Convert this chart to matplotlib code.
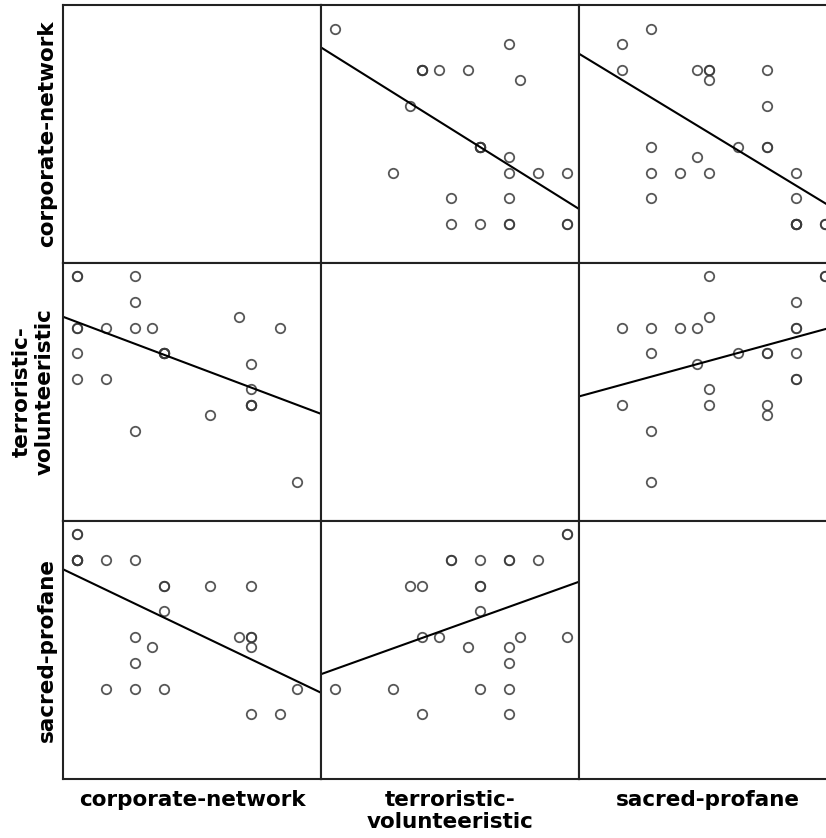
import numpy as np
import matplotlib
matplotlib.use("Agg")
import matplotlib.pyplot as plt

# scores per respondent
corporate_network = [0, 0, 0, 0, 0, 0, 1, 1, 2, 2, 2, 2, 2.6, 3, 3, 3, 3,
                     4.6, 5.6, 6, 6, 6, 6, 6, 7, 7.6]
terroristic_volunteeristic = [8, 8, 6, 6, 5, 4, 4, 6, 8, 7, 2, 6, 6, 5, 5, 5, 5,
                              2.6, 6.4, 4.6, 3.6, 3, 3, 3, 6, 0]
sacred_profane = [8, 8, 7, 7, 7, 7, 7, 2, 4, 7, 2, 3, 3.6, 6, 6, 5, 2,
                  6, 4, 3.6, 4, 6, 4, 1, 1, 2]

variables = [corporate_network, terroristic_volunteeristic, sacred_profane]
row_labels = ["corporate-network", "terroristic-\nvolunteeristic", "sacred-profane"]
col_labels = ["corporate-network", "terroristic-\nvolunteeristic", "sacred-profane"]

W, H = 826, 838
fig = plt.figure(figsize=(W / 100, H / 100), dpi=100)

left0, top0, size = 63, 5, 258
xlim = (-0.466, 8.43)
ylim = (-1.52, 8.516)

for i in range(3):
    for j in range(3):
        ax = fig.add_axes([(left0 + j * size) / W, 1 - (top0 + (i + 1) * size) / H,
                           size / W, size / H])
        ax.set_xlim(xlim)
        ax.set_ylim(ylim)
        ax.set_xticks([])
        ax.set_yticks([])
        for s in ax.spines.values():
            s.set_linewidth(1.5)
            s.set_color("#222222")
        if i == j:
            continue
        x = np.array(variables[j], dtype=float)
        y = np.array(variables[i], dtype=float)
        ax.plot(x, y, "o", ms=6.8, mfc="none", mec="#3a3a3a", mew=1.3,
                alpha=0.85, clip_on=False)
        b, a = np.polyfit(x, y, 1)
        xx = np.array(xlim)
        ax.plot(xx, a + b * xx, color="black", lw=1.5)

for i, lab in enumerate(row_labels):
    yc = 1 - (top0 + (i + 0.5) * size) / H
    xc = 47 / W if "\n" not in lab else 33 / W
    fig.text(xc, yc, lab, rotation=90, ha="center", va="center",
             fontsize=15.5, fontweight="bold", linespacing=1.15,
             family="DejaVu Sans")

for j, lab in enumerate(col_labels):
    xc = (left0 + (j + 0.5) * size) / W
    fig.text(xc, 1 - 790 / H, lab, ha="center", va="top",
             fontsize=15.5, fontweight="bold", linespacing=1.15,
             family="DejaVu Sans")

fig.savefig("out.png", dpi=100)
